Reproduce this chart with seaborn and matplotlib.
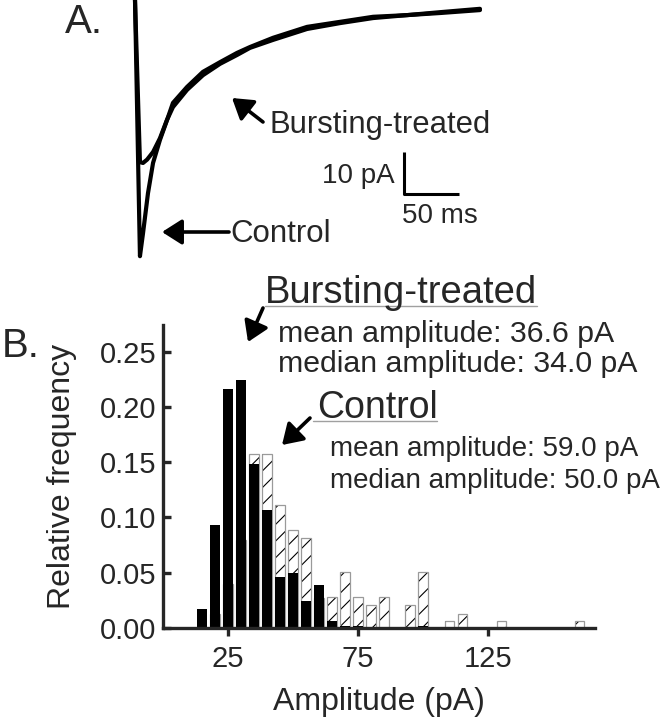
import matplotlib
matplotlib.use("Agg")
import matplotlib.pyplot as plt
import seaborn as sns
import pandas as pd
from matplotlib.patches import FancyArrowPatch
from matplotlib.lines import Line2D

# ---------------- data ----------------
# Panel A: averaged current traces (time in ms, current in pA)
ctrl_t = [0, 4.5, 7.3, 11.8, 16.4, 22.7, 29.1, 34.5, 47.3, 61.8, 77.3, 92.7,
          104.5, 125.5, 156.4, 186.4, 216.4, 247.3, 277.3, 313.6]
ctrl_i = [0, -61.0, -55.5, -46.0, -38.8, -33.3, -28.6, -24.5, -20.7, -17.1,
          -14.8, -12.6, -11.2, -9.0, -6.4, -5.2, -4.0, -3.6, -3.1, -2.4]
burst_t = [0, 4.5, 7.3, 11.0, 16.4, 22.7, 29.0, 34.5, 47.3, 61.8, 77.3, 92.7,
           104.5, 125.5, 156.4, 186.4, 216.4, 247.3, 277.3, 313.6]
burst_i = [0, -38.6, -38.8, -38.0, -36.2, -32.9, -28.6, -25.5, -21.4, -17.9,
           -15.2, -13.1, -11.4, -9.5, -6.9, -5.5, -4.3, -3.6, -2.9, -2.1]

# Panel B: amplitude histograms (bin centres in pA, relative frequency)
amp_bins = [15, 20, 25, 30, 35, 40, 45, 50, 55, 60, 65, 70, 75, 80, 85, 90,
            95, 100, 105, 110, 115, 120, 125, 130, 135, 140, 145, 150, 155, 160]
control_freq = [0.0, 0.013, 0.040, 0.080, 0.157, 0.157, 0.111, 0.089, 0.081,
                0.027, 0.028, 0.051, 0.028, 0.021, 0.028, 0.0, 0.021, 0.051,
                0.0, 0.0066, 0.013, 0.0, 0.0, 0.0066, 0.0, 0.0, 0.0, 0.0, 0.0,
                0.0066]
burst_freq = [0.017, 0.093, 0.216, 0.224, 0.148, 0.107, 0.046, 0.050, 0.024,
              0.039, 0.006, 0.002, 0.002, 0.0, 0.0, 0.0, 0.0, 0.002, 0.0, 0.0,
              0.0, 0.0, 0.0, 0.0, 0.0, 0.0, 0.0, 0.0, 0.0, 0.0]
x_ticks = [25, 75, 125]
y_ticks = [0.00, 0.05, 0.10, 0.15, 0.20, 0.25]

# scale bar sizes
SB_PA = 10
SB_MS = 50

# ---------------- style ----------------
sns.set_style("ticks")
plt.rcParams["font.family"] = ["Liberation Sans", "DejaVu Sans"]
plt.rcParams["hatch.linewidth"] = 0.8

W, H = 663, 720
fig = plt.figure(figsize=(W / 100, H / 100), dpi=100)


def fp(x, y):
    return (x / W, 1 - y / H)


# ---------------- panel A ----------------
PX_MS = 1.1
PX_PA = 4.2
axA = fig.add_axes([120 / W, 1 - 270 / H, 380 / W, 270 / H])
trace_df = pd.concat([
    pd.DataFrame({"t": ctrl_t, "i": ctrl_i, "cond": "Control"}),
    pd.DataFrame({"t": burst_t, "i": burst_i, "cond": "Bursting-treated"}),
])
for cond in ["Control", "Bursting-treated"]:
    sns.lineplot(data=trace_df[trace_df["cond"] == cond], x="t", y="i",
                 estimator=None, sort=False, color="black", lw=3.0,
                 ax=axA, clip_on=False)
axA.set_xlim((120 - 135) / PX_MS, (500 - 135) / PX_MS)
axA.set_ylim(-270 / PX_PA, 0)
axA.axis("off")
sb_t0 = (404 - 135) / PX_MS
sb_i0 = -194 / PX_PA
axA.plot([sb_t0, sb_t0, sb_t0 + SB_MS], [sb_i0 + SB_PA, sb_i0, sb_i0],
         color="black", lw=2.2, solid_capstyle="butt", clip_on=False)

# ---------------- panel B ----------------
axB = fig.add_axes([163 / W, 1 - 628 / H, (595 - 163) / W, (628 - 325) / H])
hist_df = pd.DataFrame({"amp": amp_bins, "control": control_freq,
                        "burst": burst_freq})
sns.barplot(data=hist_df, x="amp", y="control", native_scale=True, width=0.73,
            color="white", saturation=1, edgecolor="black", linewidth=0,
            hatch="//", errorbar=None, ax=axB)
sns.barplot(data=hist_df, x="amp", y="control", native_scale=True, width=0.73,
            fill=False, color="#9a9a9a", linewidth=0.9, errorbar=None, ax=axB)
sns.barplot(data=hist_df, x="amp", y="burst", native_scale=True, width=0.73,
            color="black", saturation=1, linewidth=0, errorbar=None, ax=axB)
axB.set_xlim(0, 166)
axB.set_ylim(0, 0.274)
axB.set_xticks(x_ticks)
axB.set_xticklabels([str(v) for v in x_ticks])
axB.set_yticks(y_ticks)
axB.set_yticklabels([f"{v:.2f}" for v in y_ticks])
sns.despine(ax=axB)
for s in ["left", "bottom"]:
    axB.spines[s].set_linewidth(2.4)
axB.tick_params(axis="y", direction="in", length=6, width=2.4, pad=5,
                labelsize=21)
axB.tick_params(axis="x", direction="out", length=6, width=2.4, pad=6,
                labelsize=21)
axB.set_xlabel("Amplitude (pA)", fontsize=23, labelpad=10)
axB.set_ylabel("Relative frequency", fontsize=23, labelpad=16)

# ---------------- texts ----------------
def ftext(x, y, s, size):
    fig.text(*fp(x, y), s, fontsize=size, ha="left", va="baseline")


def farrow(tail, head, lw=2.6, hl=0.55, hw=0.35, ms=22):
    fig.add_artist(FancyArrowPatch(
        fp(*tail), fp(*head), transform=fig.transFigure,
        arrowstyle=f"-|>,head_length={hl},head_width={hw}",
        mutation_scale=ms, lw=lw, color="black", shrinkA=0, shrinkB=0))


def fline(x0, x1, y, color="#a0a0a0", lw=1.0):
    fig.add_artist(Line2D([x0 / W, x1 / W], [1 - y / H] * 2,
                          transform=fig.transFigure, color=color, lw=lw))


ftext(65, 33, "A.", 29)
ftext(2, 357, "B.", 29)

ftext(270, 133, "Bursting-treated", 22.3)
farrow((263, 122), (232, 98))
ftext(230, 242, "Control", 22.5)
farrow((229, 232), (162, 232))
ftext(322, 183, "10 pA", 20)
ftext(402, 223, "50 ms", 20)

ftext(265, 303, "Bursting-treated", 27.5)
fline(265, 537, 306)
farrow((263, 308), (248, 342))
ftext(278, 342, "mean amplitude: 36.6 pA", 21.8)
ftext(278, 372, "median amplitude: 34.0 pA", 21.8)

ftext(317, 418, "Control", 27)
fline(313, 437, 421)
farrow((310, 418), (282, 445))
ftext(330, 456, "mean amplitude: 59.0 pA", 20)
ftext(330, 488, "median amplitude: 50.0 pA", 20)

fig.savefig("out.png", dpi=100)
